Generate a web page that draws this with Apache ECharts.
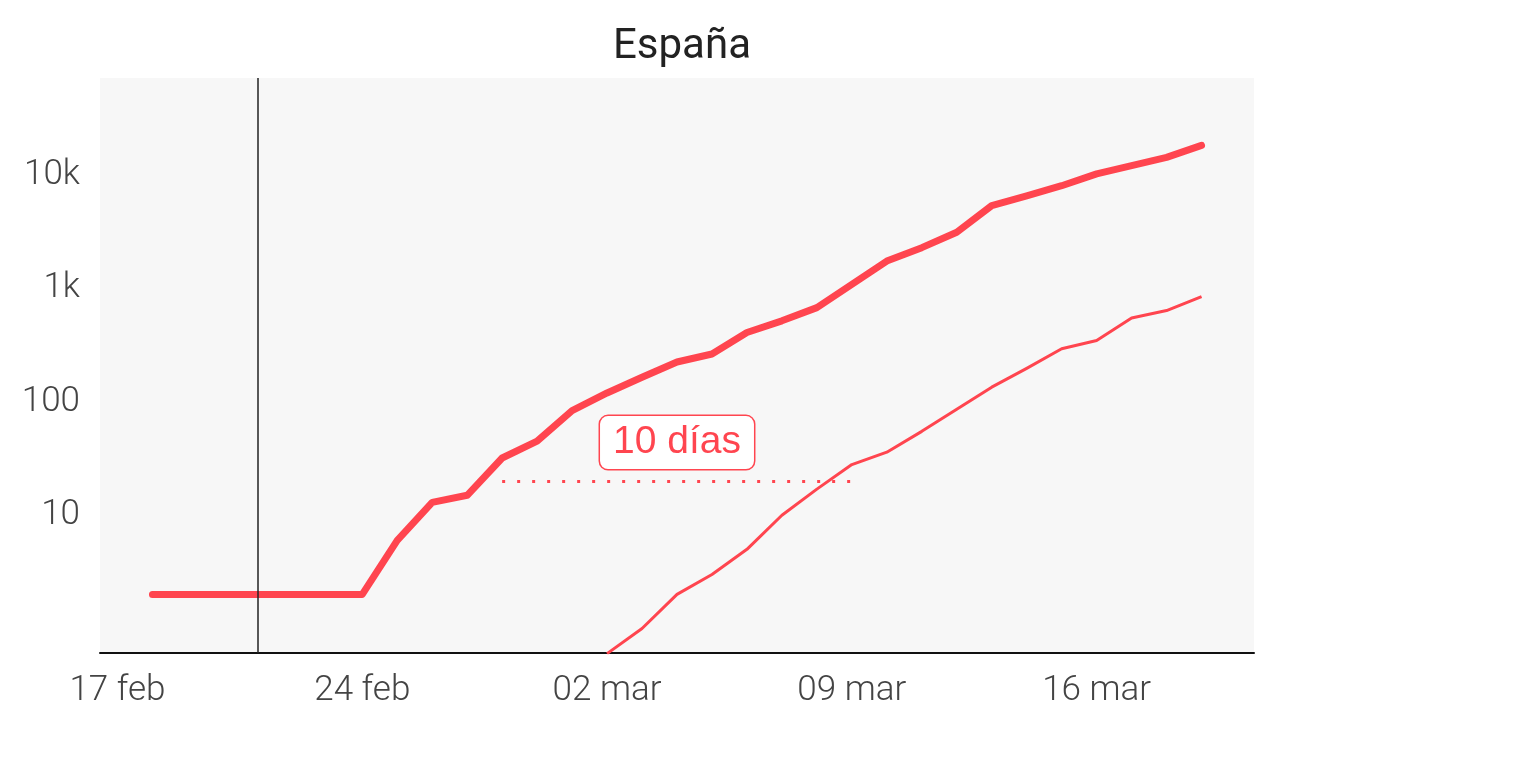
<!DOCTYPE html>
<html>
<head>
<meta charset="utf-8">
<title>España</title>
<script src="https://cdn.jsdelivr.net/npm/echarts@6/dist/echarts.min.js"></script>
<style>
  html, body { margin: 0; padding: 0; background: #fff; }
  #main { width: 1534px; height: 764px; }
</style>
</head>
<body>
<div id="main"></div>
<script>
// dias (17 feb - 20 mar)
const days = [
  '17 feb', '18 feb', '19 feb', '20 feb', '21 feb', '22 feb', '23 feb',
  '24 feb', '25 feb', '26 feb', '27 feb', '28 feb', '29 feb', '01 mar',
  '02 mar', '03 mar', '04 mar', '05 mar', '06 mar', '07 mar', '08 mar',
  '09 mar', '10 mar', '11 mar', '12 mar', '13 mar', '14 mar', '15 mar',
  '16 mar', '17 mar', '18 mar', '19 mar', '20 mar'
]
// linea gruesa
const casos = [
  null, 2, 2, 2, 2, 2, 2,
  2, 6, 13, 15, 32, 45, 84,
  120, 165, 225, 265, 410, 520, 680,
  1090, 1750, 2300, 3150, 5400, 6600, 8100,
  10300, 12200, 14400, 18400, null
]
// linea fina
const fallecidos = [
  null, null, null, null, null, null, null,
  null, null, null, null, null, null, null,
  0.6, 1, 2, 3, 5, 10, 17,
  28, 36, 55, 86, 135, 198, 295,
  348, 550, 640, 850, null
]
const yTicks = { 10: '10', 100: '100', 1000: '1k', 10000: '10k' }
const refDay = '21 feb'
const gapFrom = '28 feb'
const gapTo = '09 mar'
const gapLevel = 20
const gapText = '10 días'

const red = '#ff454f'
const chart = echarts.init(document.getElementById('main'))

const option = {
  animation: false,
  backgroundColor: '#ffffff',
  title: {
    text: 'España',
    left: 677,
    textAlign: 'center',
    top: 21,
    textStyle: { fontFamily: 'Roboto', fontWeight: 400, fontSize: 42, color: '#222' }
  },
  grid: {
    left: 100, top: 78, width: 1154, height: 575,
    show: true, backgroundColor: '#f7f7f7', borderWidth: 0
  },
  xAxis: {
    type: 'category',
    data: days,
    boundaryGap: true,
    axisLine: { lineStyle: { color: '#111', width: 2 } },
    axisTick: { show: false },
    splitLine: { show: false },
    axisLabel: {
      interval: 6,
      margin: 21,
      fontFamily: 'Roboto', fontWeight: 300, fontSize: 35, color: '#444'
    }
  },
  yAxis: {
    type: 'log',
    logBase: 10,
    min: 0.608,
    max: 72300,
    axisLine: { show: false },
    axisTick: { show: false },
    splitLine: { show: false },
    axisLabel: {
      margin: 20,
      padding: [6, 0, 0, 0],
      fontFamily: 'Roboto', fontWeight: 300, fontSize: 35, color: '#444',
      formatter: function (v) {
        return yTicks[Math.round(v)] && Math.abs(v - Math.round(v)) < 1e-6 ? yTicks[Math.round(v)] : ''
      }
    }
  },
  series: [
    {
      name: 'Casos',
      type: 'line',
      data: casos,
      symbol: 'none',
      lineStyle: { color: red, width: 7, cap: 'round', join: 'round' },
      z: 3
    },
    {
      name: 'Fallecidos',
      type: 'line',
      data: fallecidos,
      symbol: 'none',
      lineStyle: { color: red, width: 3, join: 'round' },
      z: 2,
      markLine: {
        silent: true,
        symbol: 'none',
        lineStyle: { color: red, width: 3, type: [3, 12], cap: 'butt' },
        label: {
          show: true,
          position: 'middle',
          distance: 12,
          formatter: gapText,
          fontFamily: 'Liberation Sans',
          fontSize: 39,
          color: red,
          backgroundColor: '#ffffff',
          borderColor: red,
          borderWidth: 1.5,
          borderRadius: 8,
          padding: [7, 13, 7, 13]
        },
        data: [[{ coord: [gapFrom, gapLevel] }, { coord: [gapTo, gapLevel] }]]
      }
    },
    {
      name: 'ref',
      type: 'line',
      data: [],
      z: 10,
      markLine: {
        silent: true,
        symbol: 'none',
        label: { show: false },
        lineStyle: { color: '#222', width: 1.5, type: 'solid' },
        data: [{ xAxis: refDay }]
      }
    }
  ]
}

chart.setOption(option)
</script>
</body>
</html>
